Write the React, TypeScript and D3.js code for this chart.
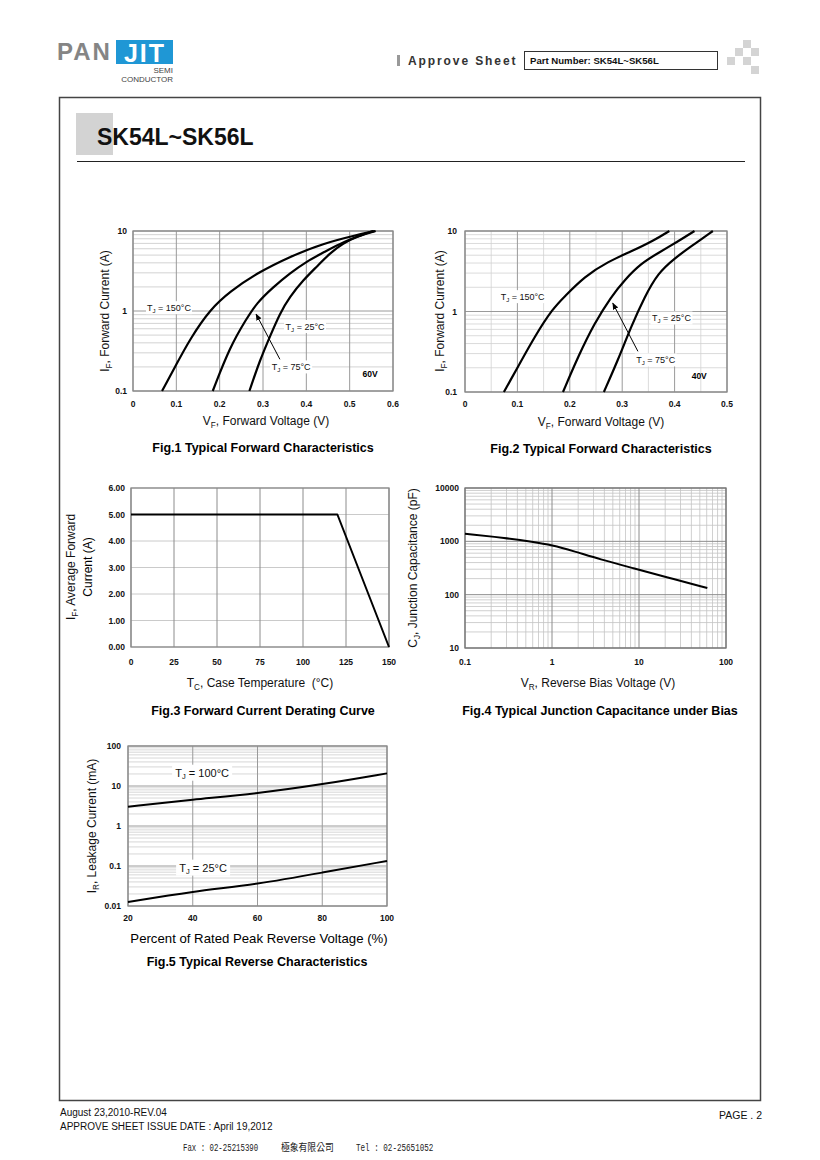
import React from 'react';
import * as d3 from 'd3';

const FONT = "'Liberation Sans', Arial, Helvetica, sans-serif";

// ---------- Fig.1 (60V) ----------
const fig1XTicks = [0, 0.1, 0.2, 0.3, 0.4, 0.5, 0.6];
const fig1YTicks = [0.1, 1, 10];
const fig1T150: [number, number][] = [[0.067, 0.1], [0.101, 0.22], [0.132, 0.45], [0.178, 1.05], [0.224, 1.75], [0.285, 2.96], [0.362, 4.78], [0.439, 7.0], [0.516, 8.9], [0.558, 10]];
const fig1T75: [number, number][] = [[0.184, 0.1], [0.224, 0.36], [0.262, 0.8], [0.285, 1.25], [0.324, 2.0], [0.362, 2.96], [0.4, 4.14], [0.439, 5.36], [0.485, 7.36], [0.554, 10]];
const fig1T25: [number, number][] = [[0.2686, 0.1], [0.293, 0.244], [0.316, 0.48], [0.339, 0.935], [0.362, 1.51], [0.393, 2.44], [0.424, 3.58], [0.454, 5.26], [0.485, 7.0], [0.516, 8.5], [0.56, 10]];

// ---------- Fig.2 (40V) ----------
const fig2XTicks = [0, 0.1, 0.2, 0.3, 0.4, 0.5];
const fig2YTicks = [0.1, 1, 10];
const fig2T150: [number, number][] = [[0.0742, 0.1], [0.1015, 0.208], [0.133, 0.49], [0.168, 1.1], [0.19, 1.53], [0.228, 2.72], [0.273, 4.17], [0.317, 5.55], [0.3617, 7.7], [0.39, 10]];
const fig2T75: [number, number][] = [[0.187, 0.1], [0.216, 0.277], [0.247, 0.716], [0.279, 1.53], [0.3046, 2.47], [0.336, 3.97], [0.368, 5.29], [0.406, 7.4], [0.438, 10]];
const fig2T25: [number, number][] = [[0.265, 0.1], [0.292, 0.25], [0.317, 0.65], [0.343, 1.53], [0.368, 2.99], [0.4, 4.58], [0.431, 6.4], [0.473, 10]];

// ---------- Fig.3 derating ----------
const fig3XTicks = [0, 25, 50, 75, 100, 125, 150];
const fig3YTicks = [0, 1, 2, 3, 4, 5, 6];
const fig3Curve: [number, number][] = [[0, 5], [120, 5], [150, 0]];

// ---------- Fig.4 capacitance ----------
const fig4XTicks = [0.1, 1, 10, 100];
const fig4YTicks = [10, 100, 1000, 10000];
const fig4Curve: [number, number][] = [[0.1, 1393], [0.3, 1150], [0.6, 980], [1.0, 850], [1.75, 660], [3.55, 460], [8.58, 313], [20.7, 213], [61, 133]];

// ---------- Fig.5 reverse ----------
const fig5XTicks = [20, 40, 60, 80, 100];
const fig5YTicks = [0.01, 0.1, 1, 10, 100];
const fig5T100: [number, number][] = [[20, 3.02], [40, 4.6], [60, 6.5], [80, 10.96], [100, 20.7]];
const fig5T25: [number, number][] = [[20, 0.0126], [40, 0.0233], [60, 0.0349], [80, 0.0684], [100, 0.134]];

function logMinor(lo: number, hi: number): number[] {
  const out: number[] = [];
  for (let e = Math.floor(Math.log10(lo)); e < Math.ceil(Math.log10(hi)); e++) {
    for (let k = 2; k <= 9; k++) {
      const v = k * Math.pow(10, e);
      if (v > lo && v < hi) out.push(v);
    }
  }
  return out;
}

type Box = { l: number; r: number; t: number; b: number };

function Sub({ x, y, main, sub, rest, size, anchor = 'start', weight = 'normal', rotate = false }: any) {
  return (
    <text x={x} y={y} fontFamily={FONT} fontSize={size} fontWeight={weight} textAnchor={anchor}
      transform={rotate ? `rotate(-90 ${x} ${y})` : undefined} fill="#111" style={{ whiteSpace: 'pre' }}>
      {main}
      <tspan fontSize={size * 0.68} dy={size * 0.25}>{sub}</tspan>
      <tspan dy={-size * 0.25}>{rest}</tspan>
    </text>
  );
}

function Label({ x, y, w, h, children }: any) {
  return (
    <g>
      <rect x={x - w / 2} y={y - h / 2} width={w} height={h} fill="#fff" />
      {children}
    </g>
  );
}

function TLabel({ x, y, text, w }: any) {
  return (
    <Label x={x} y={y} w={w} h={13}>
      <Sub x={x} y={y + 3} main="T" sub="J" rest={text} size={9} anchor="middle" />
    </Label>
  );
}

function Frame({ box, xs, ys, vGridMajor, vGridMinor, hGridMajor, hGridMinor, majorColor = '#9a9a9a', minorColor = '#c8c8c8', frameColor = '#8a8a8a' }: any) {
  return (
    <g>
      {hGridMinor.map((v: number, i: number) => (
        <line key={'hm' + i} x1={box.l} x2={box.r} y1={ys(v)} y2={ys(v)} stroke={minorColor} strokeWidth={0.8} />
      ))}
      {vGridMinor.map((v: number, i: number) => (
        <line key={'vm' + i} x1={xs(v)} x2={xs(v)} y1={box.t} y2={box.b} stroke={minorColor} strokeWidth={0.8} />
      ))}
      {hGridMajor.map((v: number, i: number) => (
        <line key={'hM' + i} x1={box.l} x2={box.r} y1={ys(v)} y2={ys(v)} stroke={majorColor} strokeWidth={1} />
      ))}
      {vGridMajor.map((v: number, i: number) => (
        <line key={'vM' + i} x1={xs(v)} x2={xs(v)} y1={box.t} y2={box.b} stroke={majorColor} strokeWidth={1} />
      ))}
      <rect x={box.l} y={box.t} width={box.r - box.l} height={box.b - box.t} fill="none" stroke={frameColor} strokeWidth={1.3} />
    </g>
  );
}

function TickLabels({ xs, ys, xTicks, yTicks, xFmt, yFmt, xLabY, yLabX }: any) {
  return (
    <g fontFamily={FONT} fontSize={8.5} fontWeight="bold" fill="#111">
      {xTicks.map((v: number, i: number) => (
        <text key={'x' + i} x={xs(v)} y={xLabY} textAnchor="middle">{xFmt(v)}</text>
      ))}
      {yTicks.map((v: number, i: number) => (
        <text key={'y' + i} x={yLabX} y={ys(v) + 3} textAnchor="end">{yFmt(v)}</text>
      ))}
    </g>
  );
}

function Curve({ data, xs, ys, width = 2.2, linear = false }: any) {
  const line = d3.line<[number, number]>().x((d) => xs(d[0])).y((d) => ys(d[1]))
    .curve(linear ? d3.curveLinear : d3.curveBasis);
  return <path d={line(data) || ''} fill="none" stroke="#000" strokeWidth={width} strokeLinejoin="round" />;
}

function Fig1() {
  const box: Box = { l: 133, r: 393, t: 231, b: 391 };
  const xs = d3.scaleLinear().domain([0, 0.6]).range([box.l, box.r]);
  const ys = d3.scaleLog().domain([0.1, 10]).range([box.b, box.t]);
  return (
    <g>
      <Frame box={box} xs={xs} ys={ys} vGridMajor={fig1XTicks} vGridMinor={[]} hGridMajor={fig1YTicks} hGridMinor={logMinor(0.1, 10)} />
      <TLabel x={xs(0.083)} y={ys(1.1)} text=" = 150°C" w={46} />
      <TLabel x={xs(0.397)} y={ys(0.64)} text=" = 25°C" w={42} />
      <TLabel x={xs(0.365)} y={ys(0.2)} text=" = 75°C" w={42} />
      <Curve data={fig1T150} xs={xs} ys={ys} />
      <Curve data={fig1T75} xs={xs} ys={ys} />
      <Curve data={fig1T25} xs={xs} ys={ys} />
      <line x1={xs(0.339)} y1={ys(0.249)} x2={xs(0.284)} y2={ys(0.917)} stroke="#000" strokeWidth={1} markerEnd="url(#arrow)" />
      <text x={xs(0.547)} y={ys(0.163) + 3} fontFamily={FONT} fontSize={8.5} fontWeight="bold" textAnchor="middle">60V</text>
      <TickLabels xs={xs} ys={ys} xTicks={fig1XTicks} yTicks={fig1YTicks}
        xFmt={(v: number) => (v === 0 ? '0' : d3.format('.1f')(v))} yFmt={(v: number) => String(v)} xLabY={407} yLabX={127} />
      <Sub x={266} y={425} main="V" sub="F" rest=", Forward Voltage (V)" size={12} anchor="middle" />
      <Sub x={109} y={311} main="I" sub="F" rest=", Forward Current (A)" size={12} anchor="middle" rotate />
      <text x={263} y={452} fontFamily={FONT} fontSize={12.5} fontWeight="bold" textAnchor="middle">Fig.1 Typical Forward Characteristics</text>
    </g>
  );
}

function Fig2() {
  const box: Box = { l: 465, r: 727, t: 231, b: 392 };
  const xs = d3.scaleLinear().domain([0, 0.5]).range([box.l, box.r]);
  const ys = d3.scaleLog().domain([0.1, 10]).range([box.b, box.t]);
  return (
    <g>
      <Frame box={box} xs={xs} ys={ys} vGridMajor={fig2XTicks} vGridMinor={d3.range(0.05, 0.5, 0.1)} hGridMajor={fig2YTicks} hGridMinor={logMinor(0.1, 10)} minorColor="#d2d2d2" />
      <TLabel x={xs(0.11)} y={ys(1.53)} text=" = 150°C" w={46} />
      <TLabel x={xs(0.394)} y={ys(0.83)} text=" = 25°C" w={42} />
      <TLabel x={xs(0.364)} y={ys(0.25)} text=" = 75°C" w={42} />
      <Curve data={fig2T150} xs={xs} ys={ys} />
      <Curve data={fig2T75} xs={xs} ys={ys} />
      <Curve data={fig2T25} xs={xs} ys={ys} />
      <line x1={xs(0.33)} y1={ys(0.32)} x2={xs(0.282)} y2={ys(1.27)} stroke="#000" strokeWidth={1} markerEnd="url(#arrow)" />
      <text x={xs(0.447)} y={ys(0.16) + 3} fontFamily={FONT} fontSize={8.5} fontWeight="bold" textAnchor="middle">40V</text>
      <TickLabels xs={xs} ys={ys} xTicks={fig2XTicks} yTicks={fig2YTicks}
        xFmt={(v: number) => (v === 0 ? '0' : d3.format('.1f')(v))} yFmt={(v: number) => String(v)} xLabY={407} yLabX={457} />
      <Sub x={601} y={426} main="V" sub="F" rest=", Forward Voltage (V)" size={12} anchor="middle" />
      <Sub x={444} y={311} main="I" sub="F" rest=", Forward Current (A)" size={12} anchor="middle" rotate />
      <text x={601} y={453} fontFamily={FONT} fontSize={12.5} fontWeight="bold" textAnchor="middle">Fig.2 Typical Forward Characteristics</text>
    </g>
  );
}

function Fig3() {
  const box: Box = { l: 131, r: 389, t: 488, b: 647 };
  const xs = d3.scaleLinear().domain([0, 150]).range([box.l, box.r]);
  const ys = d3.scaleLinear().domain([0, 6]).range([box.b, box.t]);
  return (
    <g>
      <Frame box={box} xs={xs} ys={ys} vGridMajor={fig3XTicks} vGridMinor={[]} hGridMajor={[]} hGridMinor={fig3YTicks} majorColor="#8c8c8c" minorColor="#bdbdbd" />
      <Curve data={fig3Curve} xs={xs} ys={ys} width={2} linear />
      <TickLabels xs={xs} ys={ys} xTicks={fig3XTicks} yTicks={fig3YTicks}
        xFmt={(v: number) => String(v)} yFmt={(v: number) => d3.format('.2f')(v)} xLabY={665} yLabX={125} />
      <Sub x={260} y={687} main="T" sub="C" rest={', Case Temperature\u00A0\u00A0(°C)'} size={12} anchor="middle" />
      <Sub x={75} y={567} main="I" sub="F" rest=", Average Forward" size={12} anchor="middle" rotate />
      <text x={92} y={567} fontFamily={FONT} fontSize={12} textAnchor="middle" transform="rotate(-90 92 567)">Current (A)</text>
      <text x={263} y={715} fontFamily={FONT} fontSize={12.5} fontWeight="bold" textAnchor="middle">Fig.3 Forward Current Derating Curve</text>
    </g>
  );
}

function Fig4() {
  const box: Box = { l: 465, r: 726, t: 488, b: 648 };
  const xs = d3.scaleLog().domain([0.1, 100]).range([box.l, box.r]);
  const ys = d3.scaleLog().domain([10, 10000]).range([box.b, box.t]);
  return (
    <g>
      <Frame box={box} xs={xs} ys={ys} vGridMajor={fig4XTicks} vGridMinor={logMinor(0.1, 100)} hGridMajor={fig4YTicks} hGridMinor={logMinor(10, 10000)} majorColor="#8c8c8c" minorColor="#c4c4c4" frameColor="#777" />
      <Curve data={fig4Curve} xs={xs} ys={ys} width={2} />
      <TickLabels xs={xs} ys={ys} xTicks={fig4XTicks} yTicks={fig4YTicks}
        xFmt={(v: number) => String(v)} yFmt={(v: number) => String(v)} xLabY={665} yLabX={459} />
      <Sub x={598} y={687} main="V" sub="R" rest=", Reverse Bias Voltage (V)" size={12} anchor="middle" />
      <Sub x={417} y={568} main="C" sub="J" rest=", Junction Capacitance (pF)" size={12} anchor="middle" rotate />
      <text x={600} y={715} fontFamily={FONT} fontSize={12.5} fontWeight="bold" textAnchor="middle">Fig.4 Typical Junction Capacitance under Bias</text>
    </g>
  );
}

function Fig5() {
  const box: Box = { l: 128, r: 387, t: 746, b: 906 };
  const xs = d3.scaleLinear().domain([20, 100]).range([box.l, box.r]);
  const ys = d3.scaleLog().domain([0.01, 100]).range([box.b, box.t]);
  return (
    <g>
      <Frame box={box} xs={xs} ys={ys} vGridMajor={fig5XTicks} vGridMinor={[]} hGridMajor={fig5YTicks} hGridMinor={logMinor(0.01, 100)} majorColor="#9a9a9a" minorColor="#cdcdcd" />
      <Label x={xs(42.9)} y={ys(21.5)} w={60} h={16}>
        <Sub x={xs(42.9)} y={ys(21.5) + 4} main="T" sub="J" rest=" = 100°C" size={11} anchor="middle" />
      </Label>
      <Label x={xs(43.2)} y={ys(0.091)} w={54} h={16}>
        <Sub x={xs(43.2)} y={ys(0.091) + 4} main="T" sub="J" rest=" = 25°C" size={11} anchor="middle" />
      </Label>
      <Curve data={fig5T100} xs={xs} ys={ys} width={2} />
      <Curve data={fig5T25} xs={xs} ys={ys} width={2} />
      <TickLabels xs={xs} ys={ys} xTicks={fig5XTicks} yTicks={fig5YTicks}
        xFmt={(v: number) => String(v)} yFmt={(v: number) => String(v)} xLabY={921} yLabX={121} />
      <text x={259} y={943} fontFamily={FONT} fontSize={13.2} textAnchor="middle">Percent of Rated Peak Reverse Voltage (%)</text>
      <Sub x={96} y={826} main="I" sub="R" rest=", Leakage Current (mA)" size={12} anchor="middle" rotate />
      <text x={257} y={966} fontFamily={FONT} fontSize={12.5} fontWeight="bold" textAnchor="middle">Fig.5 Typical Reverse Characteristics</text>
    </g>
  );
}

const checker: [number, number][] = [[743, 40], [735, 48], [751, 48], [727, 57], [743, 57], [751, 66]];

function Header() {
  return (
    <g>
      <text x={57} y={60} fontFamily={FONT} fontSize={24} fontWeight="bold" fill="#858585" letterSpacing={2}>PAN</text>
      <rect x={116} y={40} width={57} height={24} fill="#1f97d5" />
      <text x={145} y={62} fontFamily={FONT} fontSize={25} fontWeight="bold" fill="#fff" textAnchor="middle" letterSpacing={2}>JIT</text>
      <text x={173} y={73} fontFamily={FONT} fontSize={8} fill="#444" textAnchor="end">SEMI</text>
      <text x={173} y={82} fontFamily={FONT} fontSize={8} fill="#444" textAnchor="end">CONDUCTOR</text>
      <rect x={397} y={55} width={3} height={11} fill="#999" />
      <text x={408} y={65} fontFamily={FONT} fontSize={12} fontWeight="bold" fill="#333" letterSpacing={1.9}>Approve Sheet</text>
      <rect x={524.5} y={51.5} width={193} height={18} fill="#fff" stroke="#333" strokeWidth={1} />
      <text x={530} y={64} fontFamily={FONT} fontSize={9.6} fontWeight="bold" fill="#111">Part Number: SK54L~SK56L</text>
      {checker.map((c, i) => (
        <rect key={i} x={c[0]} y={c[1]} width={8} height={8} fill="#d4d4d4" />
      ))}
      <rect x={59.5} y={97.5} width={701} height={1003} fill="none" stroke="#444" strokeWidth={1.5} />
      <rect x={76} y={113} width={37} height={42} fill="#d3d3d3" />
      <text x={97} y={145} fontFamily={FONT} fontSize={23} fontWeight="bold" fill="#111">SK54L~SK56L</text>
      <line x1={77} x2={745} y1={161.5} y2={161.5} stroke="#222" strokeWidth={1} />
    </g>
  );
}

function Footer() {
  const mono = "'Liberation Mono', 'DejaVu Sans Mono', monospace";
  return (
    <g>
      <text x={60} y={1116} fontFamily={FONT} fontSize={10} fill="#111">August 23,2010-REV.04</text>
      <text x={60} y={1130} fontFamily={FONT} fontSize={10} fill="#111">APPROVE SHEET ISSUE DATE : April 19,2012</text>
      <text x={762} y={1119} fontFamily={FONT} fontSize={10.5} fill="#111" textAnchor="end">PAGE . 2</text>
      <g transform="translate(183,1151) scale(0.67,1)">
        <text x={0} y={0} fontFamily={mono} fontSize={11} fill="#222">Fax : 02-25215390</text>
      </g>
      <g transform="translate(281,1151) scale(0.88,1)">
        <text x={0} y={0} fontFamily="'Noto Sans CJK TC', sans-serif" fontSize={10} fill="#222">極象有限公司</text>
      </g>
      <g transform="translate(356,1151) scale(0.69,1)">
        <text x={0} y={0} fontFamily={mono} fontSize={11} fill="#222">Tel : 02-25651052</text>
      </g>
    </g>
  );
}

export default function App() {
  return (
    <svg width={820} height={1160} viewBox="0 0 820 1160" style={{ position: 'absolute', left: 0, top: 0, background: '#fff' }}>
      <defs>
        <marker id="arrow" viewBox="0 0 10 10" refX={9} refY={5} markerWidth={7} markerHeight={7} orient="auto-start-reverse">
          <path d="M0,1 L10,5 L0,9 z" fill="#000" />
        </marker>
      </defs>
      <rect x={0} y={0} width={820} height={1160} fill="#fff" />
      <Header />
      <Fig1 />
      <Fig2 />
      <Fig3 />
      <Fig4 />
      <Fig5 />
      <Footer />
    </svg>
  );
}
